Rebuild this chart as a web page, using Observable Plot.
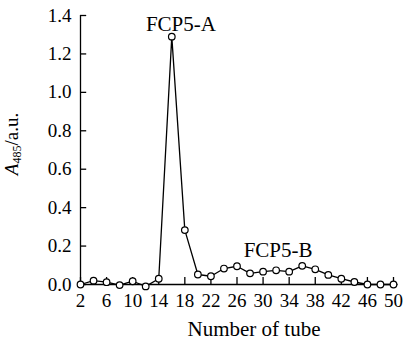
<!DOCTYPE html>
<html>
<head>
<meta charset="utf-8">
<script src="https://cdn.jsdelivr.net/npm/d3@7"></script>
<script src="https://cdn.jsdelivr.net/npm/@observablehq/plot@0.6"></script>
<style>
  html, body { margin: 0; padding: 0; background: #fff; }
  svg { display: block; }
  svg text { font-family: 'Liberation Serif', 'Times New Roman', serif !important; }
</style>
</head>
<body>
<div id="chart"></div>
<script>
const tubes = [2, 4, 6, 8, 10, 12, 14, 16, 18, 20, 22, 24, 26, 28, 30, 32, 34, 36, 38, 40, 42, 44, 46, 48, 50];
const absorbance = [0.00, 0.02, 0.012, -0.003, 0.017, -0.01, 0.03, 1.29, 0.283, 0.052, 0.043, 0.083, 0.095, 0.058, 0.067, 0.074, 0.067, 0.097, 0.079, 0.05, 0.03, 0.013, 0.0, 0.0, 0.0];
const xTicks = [2, 6, 10, 14, 18, 22, 26, 30, 34, 38, 42, 46, 50];
const yTicks = [0, 0.2, 0.4, 0.6, 0.8, 1.0, 1.2, 1.4];
const peakLabels = ["FCP5-A", "FCP5-B"];
const peakX = [17.4, 32.3];
const peakY = [1.32, 0.143];

const data = tubes.map((t, i) => ({tube: t, a: absorbance[i]}));
const labels = peakLabels.map((s, i) => ({text: s, x: peakX[i], y: peakY[i]}));

const font = "'Liberation Serif', 'Times New Roman', serif";
const xTickLen = 0.0365; // ~7px in y units
const yTickLen = 0.95;   // ~6px in x units

const chart = Plot.plot({
  width: 405,
  height: 341,
  marginLeft: 80,
  marginRight: 12,
  marginTop: 15,
  marginBottom: 57,
  style: {fontFamily: font, fontSize: "19px", color: "#000", background: "#fff"},
  x: {domain: [2, 50]},
  y: {domain: [0, 1.4]},
  marks: [
    Plot.ruleX([2], {y1: 0, y2: 1.4, stroke: "#000", strokeWidth: 1.3}),
    Plot.ruleY([0], {x1: 2, x2: 50.7, stroke: "#000", strokeWidth: 1.3}),
    Plot.ruleX(xTicks, {x: d => d, y1: 0, y2: xTickLen, stroke: "#000", strokeWidth: 1.3}),
    Plot.ruleY(yTicks, {y: d => d, x1: 2, x2: 2 + yTickLen, stroke: "#000", strokeWidth: 1.3}),
    Plot.axisX({ticks: xTicks, tickSize: 0, tickPadding: 9, tickFormat: d => String(d), label: null, fontSize: 19, fontFamily: font, fill: "#000"}),
    Plot.axisY({ticks: yTicks, tickSize: 0, tickPadding: 9, tickFormat: d3.format(".1f"), label: null, fontSize: 19, fontFamily: font, fill: "#000"}),
    Plot.line(data, {x: "tube", y: "a", stroke: "#000", strokeWidth: 1.3}),
    Plot.dot(data, {x: "tube", y: "a", r: 3.3, fill: "#fff", stroke: "#000", strokeWidth: 1.2}),
    Plot.text(labels, {x: "x", y: "y", text: "text", textAnchor: "middle", lineAnchor: "bottom", fontSize: 21, fontFamily: font, fill: "#000"})
  ]
});

const svg = d3.select(chart);
svg.append("text")
  .attr("x", 254).attr("y", 336)
  .attr("text-anchor", "middle")
  .attr("font-family", font).attr("font-size", 21).attr("fill", "#000")
  .text("Number of tube");

const yl = svg.append("text")
  .attr("transform", "translate(18,144) rotate(-90)")
  .attr("text-anchor", "middle")
  .attr("font-family", font).attr("font-size", 19).attr("fill", "#000");
yl.append("tspan").attr("font-style", "italic").text("A");
yl.append("tspan").attr("font-size", 12).attr("dy", 3).text("485");
yl.append("tspan").attr("dy", -3).text("/a.u.");

document.getElementById("chart").appendChild(chart);
</script>
</body>
</html>
